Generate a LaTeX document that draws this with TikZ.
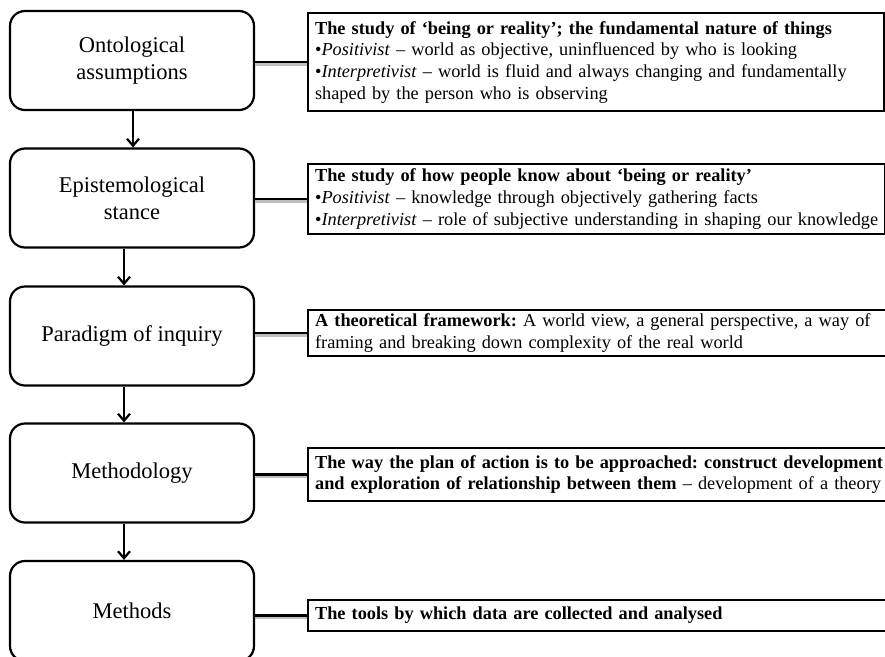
\documentclass[tikz,border=0pt]{standalone}
\usepackage{fontspec}
\setmainfont{Liberation Serif}
\usetikzlibrary{arrows.meta}
\begin{document}
\frenchspacing
\begin{tikzpicture}[x=1pt,y=-1pt,
  lbox/.style={draw, line width=2.2pt, rounded corners=15pt, minimum width=244pt, minimum height=99pt, align=center, inner sep=0pt, font=\fontsize{22.5}{27}\selectfont},
  rbox/.style={draw, line width=2.2pt, anchor=north west, align=left, inner xsep=7pt, inner ysep=0pt, font=\fontsize{18.3}{21.7}\selectfont},
  flow/.style={line width=2.2pt, -{Straight Barb[length=7pt,width=12pt,line width=2.2pt]}},
  link/.style={line width=2.4pt},
  linkshadow/.style={line width=2.4pt, draw=black!25, transform canvas={yshift=-2.2pt}}
]
\useasboundingbox (0,0) rectangle (885,656);
\clip (0,0) rectangle (885,656);

% left boxes
\node[lbox] (l1) at (132,60.5) {Ontological\\assumptions};
\node[lbox] (l2) at (132,198) {Epistemological\\stance};
\node[lbox] (l3) at (132,336) {Paradigm of inquiry};
\node[lbox] (l4) at (132,473) {Methodology};
\node[lbox, minimum height=100pt] (l5) at (132,611) {Methods};

% right boxes
\node[rbox, text width=562pt, minimum height=98pt] (r1) at (307,12)
 {\mbox{\textbf{The study of ‘being or reality’; the fundamental nature of things}}\\
  \mbox{•\textit{Positivist} – world as objective, uninfluenced by who is looking}\\
  \mbox{•\textit{Interpretivist} – world is fluid and always changing and fundamentally}\\
  \mbox{shaped by the person who is observing}};
\node[rbox, text width=563pt, minimum height=70pt] (r2) at (307,163)
 {\mbox{\textbf{The study of how people know about ‘being or reality’}}\\
  \mbox{•\textit{Positivist} – knowledge through objectively gathering facts}\\
  \mbox{•\textit{Interpretivist} – role of subjective understanding in shaping our knowledge}};
\node[rbox, text width=580pt, minimum height=46pt] (r3) at (307,309)
 {\mbox{\textbf{A theoretical framework:} A world view, a general perspective, a way of}\\
  \mbox{framing and breaking down complexity of the real world}};
\node[rbox, text width=580pt, minimum height=53pt] (r4) at (307,447)
 {\mbox{\textbf{The way the plan of action is to be approached: construct development}}\\
  \mbox{\textbf{and exploration of relationship between them} – development of a theory}};
\node[rbox, text width=580pt, minimum height=31pt] (r5) at (307,599)
 {\mbox{\textbf{The tools by which data are collected and analysed}}};

% connectors
\foreach \i in {1,...,5}{
  \draw[linkshadow] (r\i.west) -- (r\i.west -| l\i.east);
  \draw[link] (r\i.west) -- (r\i.west -| l\i.east);
}

% flow arrows
\draw[flow] ([xshift=1pt]l1.south) -- ([xshift=1pt]l2.north);
\draw[flow] ([xshift=-8pt]l2.south) -- ([xshift=-8pt]l3.north);
\draw[flow] ([xshift=-8pt]l3.south) -- ([xshift=-8pt]l4.north);
\draw[flow] ([xshift=-8pt]l4.south) -- ([xshift=-8pt]l5.north);
\end{tikzpicture}
\end{document}
